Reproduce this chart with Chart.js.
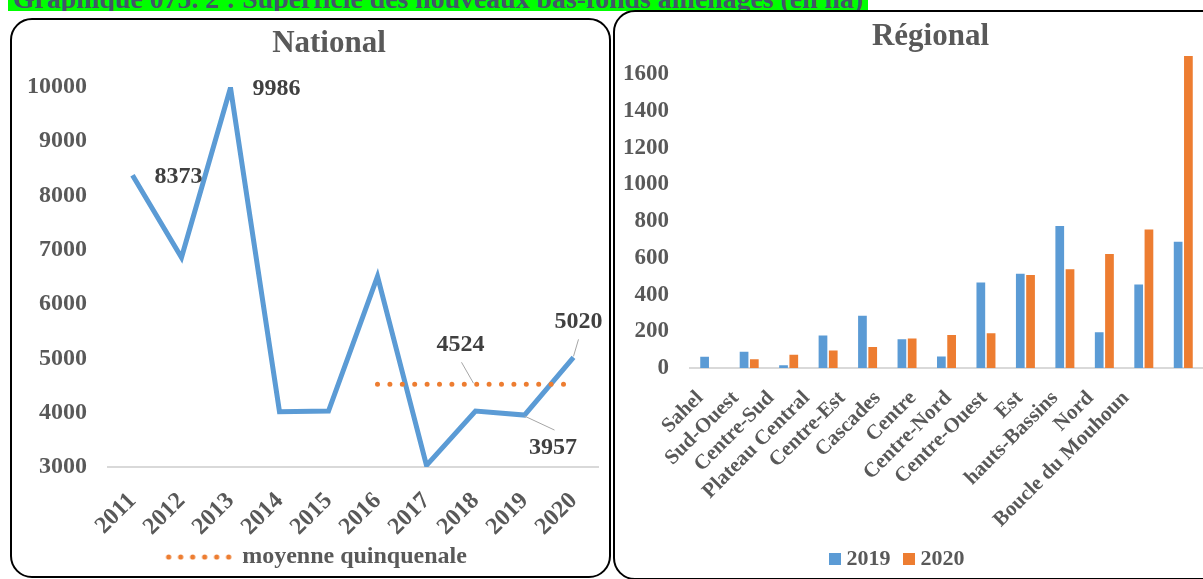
<!DOCTYPE html>
<html>
<head>
<meta charset="utf-8">
<script src="https://cdn.jsdelivr.net/npm/chart.js@4/dist/chart.umd.min.js"></script>
<style>
  html, body { margin: 0; padding: 0; background: #fff; width: 1203px; height: 579px; overflow: hidden; position: relative;
    font-family: 'Liberation Serif', 'Times New Roman', serif; }
  #caption { position: absolute; left: 8px; top: 0; height: 11px; overflow: hidden; background: #00FF00; padding: 0 5px 0 5px; }
  #caption span { display: block; font-weight: bold; font-size: 27.8px; line-height: 28px; color: #44546A; margin-top: -15.1px; white-space: nowrap; }
  .panel { position: absolute; border: 2px solid #000; border-radius: 22px; box-sizing: border-box; }
  #panelL { left: 10px; top: 18px; width: 601px; height: 560px; }
  #panelR { left: 613px; top: 10px; width: 620px; height: 570px; }
  canvas { position: absolute; }
  #national { left: 12px; top: 20px; }
  #regional { left: 617px; top: 12px; }
</style>
</head>
<body>
<div id="caption"><span>Graphique 075. 2 : Superficie des nouveaux bas-fonds aménagés (en ha)</span></div>
<div class="panel" id="panelL"></div>
<div class="panel" id="panelR"></div>
<canvas id="national" width="598" height="559"></canvas>
<canvas id="regional" width="586" height="568"></canvas>
<script>
// ---- National series (ha) ----
const years = ['2011', '2012', '2013', '2014', '2015', '2016', '2017', '2018', '2019', '2020'];
const nationalValues = [8373, 6860, 9986, 4020, 4030, 6510, 3030, 4030, 3957, 5020];
const fiveYearMean = [null, null, null, null, null, 4524, 4524, 4524, 4524, 4524];
const nationalTicks = [3000, 4000, 5000, 6000, 7000, 8000, 9000, 10000];

// ---- Regional series (ha) ----
const regions = ['Sahel', 'Sud-Ouest', 'Centre-Sud', 'Plateau Central', 'Centre-Est', 'Cascades', 'Centre',
  'Centre-Nord', 'Centre-Ouest', 'Est', 'hauts-Bassins', 'Nord', 'Boucle du Mouhoun'];
const values2019 = [61, 88, 15, 177, 284, 157, 63, 466, 513, 773, 195, 455, 688];
const values2020 = [0, 47, 72, 96, 114, 161, 180, 190, 507, 538, 621, 755, 1700];
const regionalTicks = [0, 200, 400, 600, 800, 1000, 1200, 1400, 1600];

const BLUE = '#5B9BD5';
const ORANGE = '#ED7D31';
const GREY_TEXT = '#595959';
const LABEL_TEXT = '#404040';

Chart.defaults.font.family = "'Liberation Serif', 'Times New Roman', serif";
Chart.defaults.font.weight = 'bold';
Chart.defaults.color = GREY_TEXT;

const plain = v => String(v);

// Moves the title and legend sideways after layout, without touching the plot area.
const shiftBoxes = {
  id: 'shiftBoxes',
  afterLayout(chart, args, opts) {
    const mv = (box, dx) => { if (box && dx) { box.left += dx; box.right += dx; } };
    mv(chart.titleBlock, opts.title || 0);
    mv(chart.legend, opts.legend || 0);
  }
};

// Value labels with optional leader lines, placed relative to the data point.
const valueLabels = {
  id: 'valueLabels',
  afterDatasetsDraw(chart, args, opts) {
    const ctx = chart.ctx;
    ctx.save();
    (opts.spots || []).forEach(s => {
      const pt = chart.getDatasetMeta(s.ds).data[s.i];
      const v = chart.data.datasets[s.ds].data[s.i];
      if (!pt || v == null) return;
      if (s.lead) {
        ctx.beginPath();
        ctx.strokeStyle = '#A6A6A6';
        ctx.lineWidth = 1;
        ctx.moveTo(pt.x + s.lead[0], pt.y + s.lead[1]);
        ctx.lineTo(pt.x + s.lead[2], pt.y + s.lead[3]);
        ctx.stroke();
      }
      ctx.font = 'bold 24px ' + Chart.defaults.font.family;
      ctx.fillStyle = LABEL_TEXT;
      ctx.textAlign = 'center';
      ctx.textBaseline = 'middle';
      ctx.fillText(String(v), pt.x + s.dx, pt.y + s.dy);
    });
    ctx.restore();
  }
};

// Dotted swatch used by the legend entry of the five-year mean.
function dottedSwatch() {
  const c = document.createElement('canvas');
  c.width = 68; c.height = 8;
  const g = c.getContext('2d');
  g.fillStyle = ORANGE;
  for (let k = 0; k < 6; k++) {
    g.beginPath();
    g.arc(4 + k * 12, 4, 2.6, 0, Math.PI * 2);
    g.fill();
  }
  return c;
}
const swatch = dottedSwatch();

new Chart(document.getElementById('national'), {
  type: 'line',
  data: {
    labels: years,
    datasets: [
      { label: 'Superficie', data: nationalValues, borderColor: BLUE, backgroundColor: BLUE, borderWidth: 5,
        pointRadius: 0, tension: 0, borderJoinStyle: 'miter', order: 1 },
      { label: 'moyenne quinquenale', data: fiveYearMean, borderColor: ORANGE, backgroundColor: ORANGE, borderWidth: 5,
        borderDash: [0, 12.4], borderCapStyle: 'round', pointRadius: 0, order: 0 }
    ]
  },
  options: {
    responsive: false, animation: false, devicePixelRatio: 1,
    layout: { padding: { left: 0, right: 12, top: 0, bottom: 0 } },
    plugins: {
      title: { display: true, text: 'National', color: GREY_TEXT,
        font: { size: 31, weight: 'bold', lineHeight: 1.2 }, padding: { top: 5.4, bottom: 24.4 } },
      legend: {
        position: 'bottom',
        labels: {
          usePointStyle: true, pointStyleWidth: 63, padding: 10, color: GREY_TEXT,
          font: { size: 24, weight: 'bold' },
          generateLabels: chart => Chart.defaults.plugins.legend.labels.generateLabels(chart)
            .map(it => Object.assign(it, { pointStyle: swatch })),
          filter: it => it.datasetIndex === 1
        }
      },
      tooltip: { enabled: false },
      shiftBoxes: { title: 24, legend: 12 },
      valueLabels: {
        spots: [
          { ds: 0, i: 0, dx: 46, dy: 1 },
          { ds: 0, i: 2, dx: 46, dy: 1.5 },
          { ds: 0, i: 8, dx: 28.5, dy: 32.5, lead: [0, 1, 30, 15] },
          { ds: 0, i: 9, dx: 5, dy: -36, lead: [0, -1, 5, -18] },
          { ds: 1, i: 7, dx: -15, dy: -39.5, lead: [-2, -1, -14, -22] }
        ]
      }
    },
    scales: {
      x: {
        offset: true,
        grid: { display: false, drawTicks: false },
        border: { display: true, color: '#D9D9D9', width: 2 },
        ticks: { minRotation: 45, maxRotation: 45, autoSkip: false, padding: 20, color: GREY_TEXT,
          font: { size: 24, weight: 'bold' } },
        afterFit: s => { s.height = 68; s.paddingLeft = 0; s.paddingRight = 0; }
      },
      y: {
        min: 3000, max: 10000,
        grid: { display: false, drawTicks: false },
        border: { display: false },
        ticks: { padding: 21, color: GREY_TEXT, font: { size: 24, weight: 'bold' }, callback: plain },
        afterBuildTicks: s => { s.ticks = nationalTicks.map(v => ({ value: v })); },
        afterFit: s => { s.width = 96; }
      }
    }
  },
  plugins: [shiftBoxes, valueLabels]
});

new Chart(document.getElementById('regional'), {
  type: 'bar',
  data: {
    labels: regions,
    datasets: [
      { label: '2019', data: values2019, xAxisID: 'x', yAxisID: 'y', backgroundColor: BLUE, borderWidth: 0,
        categoryPercentage: 0.52, barPercentage: 0.85 },
      { label: '2020', data: values2020, xAxisID: 'x', yAxisID: 'y', backgroundColor: ORANGE, borderWidth: 0,
        categoryPercentage: 0.52, barPercentage: 0.85 }
    ]
  },
  options: {
    responsive: false, animation: false, devicePixelRatio: 1,
    layout: { padding: 0 },
    plugins: {
      title: { display: true, text: 'Régional', color: GREY_TEXT,
        font: { size: 31, weight: 'bold', lineHeight: 0.8 }, padding: { top: 12.6, bottom: -3 } },
      legend: {
        position: 'bottom',
        labels: { usePointStyle: true, pointStyle: 'rect', boxWidth: 1, boxHeight: 12, padding: 18,
          color: GREY_TEXT, font: { size: 22, weight: 'bold' } }
      },
      tooltip: { enabled: false },
      shiftBoxes: { title: 20.5, legend: -10.5 }
    },
    scales: {
      // category axis carrying the bars and the base line
      x: {
        offset: true,
        grid: { display: false, drawTicks: false },
        border: { display: true, color: '#D9D9D9', width: 2 },
        ticks: { display: false },
        afterFit: s => { s.height = 0; s.paddingLeft = 0; s.paddingRight = 0; }
      },
      // region names, set on a slightly tighter pitch than the bars
      names: {
        type: 'linear', position: 'bottom', offset: false, min: -0.2817, max: 14.169,
        grid: { display: false, drawTicks: false, offset: false },
        border: { display: false },
        ticks: { minRotation: 45, maxRotation: 45, autoSkip: false, padding: 18, color: GREY_TEXT,
          font: { size: 21, weight: 'bold' }, callback: v => regions[v] },
        afterBuildTicks: s => { s.ticks = regions.map((r, k) => ({ value: k })); },
        afterFit: s => { s.height = 162; s.paddingLeft = 0; s.paddingRight = 0; }
      },
      y: {
        min: 0, max: 1750,
        grid: { display: false, drawTicks: false },
        border: { display: false },
        ticks: { padding: 21, color: GREY_TEXT, font: { size: 23, weight: 'bold' }, callback: plain },
        afterBuildTicks: s => { s.ticks = regionalTicks.map(v => ({ value: v })); },
        afterFit: s => { s.width = 73; }
      }
    }
  },
  plugins: [shiftBoxes]
});
</script>
</body>
</html>
